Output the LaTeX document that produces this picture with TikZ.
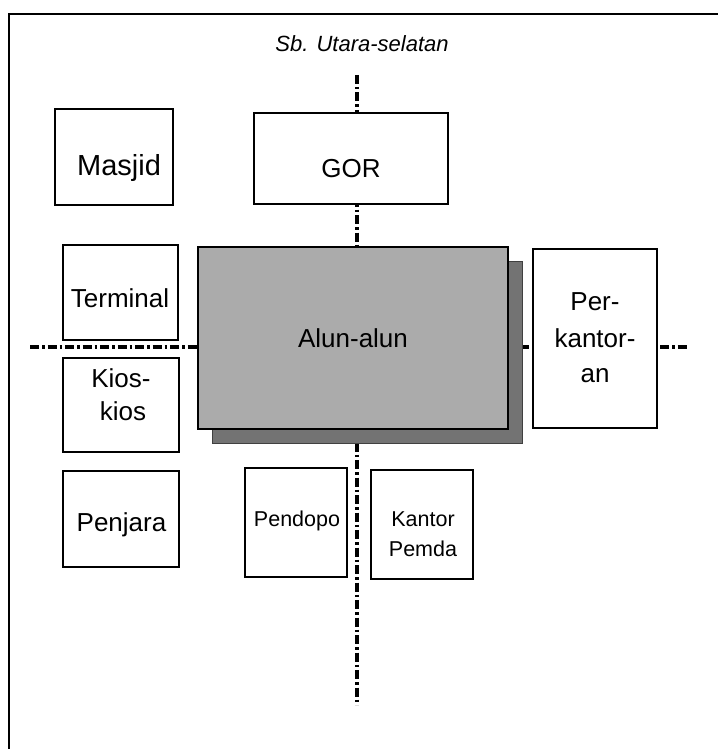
\documentclass[tikz,border=0pt]{standalone}
\usepackage{fontspec}
\setmainfont{Liberation Sans}
\begin{document}
\begin{tikzpicture}[x=1pt,y=-1pt,
  box/.style={draw=black,line width=1.8pt,fill=white,inner sep=0pt,outer sep=0pt,anchor=north west},
  lbl/.style={inner sep=0pt,anchor=base,font=\fontsize{26}{32}\selectfont},
  slbl/.style={inner sep=0pt,anchor=base,font=\fontsize{21.5}{26}\selectfont},
  axisline/.style={line width=3.6pt,dash pattern=on 9pt off 3pt on 2.5pt off 3pt}]
\useasboundingbox (0,0) rectangle (718,749);
\fill[white] (0,0) rectangle (718,749);
% outer frame (cropped at right and bottom)
\coordinate (fBL) at (9,749);
\coordinate (fTL) at (9,14);
\coordinate (fTR) at (718,14);
\draw[line width=2pt] (fBL) -- (fTL) -- (fTR);
% title
\node[inner sep=0pt,anchor=base,font=\fontsize{22}{26}\selectfont\itshape] (title) at (362,52) {Sb. Utara-selatan};
% axes (behind everything)
\coordinate (vN) at (357,75);
\coordinate (vS) at (357,705);
\coordinate (hW) at (30,347);
\coordinate (hE) at (688,347);
\draw[axisline] (vN) -- (vS);
\draw[axisline,line width=3.2pt] (hW) -- (hE);
% boxes
\node[box,minimum width=118pt,minimum height=96pt] (masjid) at (55,109) {};
\node[box,minimum width=194pt,minimum height=91pt] (gor) at (254,113) {};
\node[box,minimum width=115pt,minimum height=95pt] (terminal) at (63,245) {};
\node[box,minimum width=116pt,minimum height=94pt] (kios) at (63,358) {};
\node[box,minimum width=116pt,minimum height=96pt] (penjara) at (63,471) {};
\node[box,minimum width=124pt,minimum height=179pt] (kantorbox) at (533,249) {};
\node[box,minimum width=102pt,minimum height=109pt] (pendopo) at (245,468) {};
\node[box,minimum width=102pt,minimum height=109pt] (pemda) at (371,470) {};
% alun-alun with shadow
\node[box,draw=black!75,line width=0.8pt,fill=black!55,minimum width=310pt,minimum height=182pt] (alunshadow) at (212,261) {};
\node[box,line width=2pt,fill=black!33,minimum width=310pt,minimum height=182pt] (alun) at (198,247) {};
% labels
\node[lbl,font=\fontsize{29}{32}\selectfont] (tmasjid) at (119,175) {Masjid};
\node[lbl] (tgor) at (351,177) {GOR};
\node[lbl] (tterminal) at (120,307) {Terminal};
\node[lbl] (tkios1) at (121,387) {Kios-};
\node[lbl] (tkios2) at (123,420) {kios};
\node[lbl] (tpenjara) at (121.5,531) {Penjara};
\node[lbl] (talun) at (353,347) {Alun-alun};
\node[lbl] (tper1) at (595,310) {Per-};
\node[lbl] (tper2) at (595,347) {kantor-};
\node[lbl] (tper3) at (595,382) {an};
\node[slbl] (tpendopo) at (297,526) {Pendopo};
\node[slbl] (tkantor) at (423,526) {Kantor};
\node[slbl] (tpemda) at (423,556) {Pemda};
\end{tikzpicture}
\end{document}
